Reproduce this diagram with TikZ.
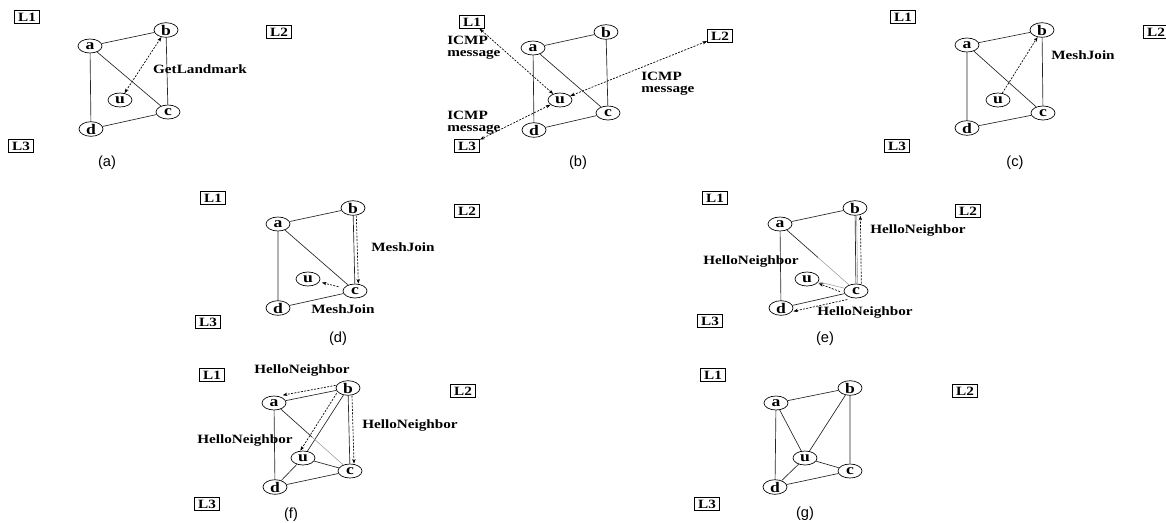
\documentclass[tikz,border=0pt]{standalone}
\usepackage{fontspec}
\setmainfont[FakeStretch=1.2]{Liberation Serif}
\newfontfamily\capfont{Liberation Sans}
\usetikzlibrary{shapes.geometric,arrows.meta,calc}
\tikzset{
 vtx/.style={ellipse,draw,line width=0.5pt,fill=white,inner sep=0pt,minimum width=18pt,minimum height=10.5pt,font=\bfseries\fontsize{11}{11}\selectfont},
 lm/.style={draw,line width=0.5pt,inner sep=0pt,minimum width=19pt,minimum height=9.5pt,font=\bfseries\fontsize{9.5}{10}\selectfont},
 lbl/.style={font=\bfseries\fontsize{9.5}{10}\selectfont,inner sep=0pt},
 twol/.style={lbl,align=left,anchor=west,font=\bfseries\fontsize{9.5}{9}\selectfont},
 captxt/.style={font=\capfont\fontsize{11}{11}\selectfont,inner sep=0pt},
 lnk/.style={line width=0.5pt,black!85},
 faint/.style={line width=0.4pt,black!40},
 msg/.style={line width=0.5pt,dash pattern=on 1.5pt off 1pt,-{Stealth[length=3.5pt,width=2.6pt]}},
 msgb/.style={line width=0.5pt,dash pattern=on 1.5pt off 1pt,{Stealth[length=3.5pt,width=2.6pt]}-{Stealth[length=3.5pt,width=2.6pt]}},
}
\begin{document}
\begin{tikzpicture}[x=0.75pt,y=-0.75pt]
\useasboundingbox (0,0) rectangle (1166,522);
% ---------------- (a)
\node[lm] (aL1) at (27,17) {L1};
\node[lm] (aL2) at (279,32) {L2};
\node[lm] (aL3) at (21,146) {L3};
\node[vtx] (aa) at (90,46) {a};
\node[vtx] (ab) at (166,30) {b};
\node[vtx] (au) at (120,100) {u};
\node[vtx] (ac) at (168,112) {c};
\node[vtx] (ad) at (91,129) {d};
\draw[lnk] (aa)--(ab) (aa)--(ad) (aa)--(ac) (ab)--(ac) (ad)--(ac);
\draw[msgb] (au)--(ab);
\node[lbl] (agl) at (200,69) {GetLandmark};
\node[captxt] (acap) at (107,163) {(a)};
% ---------------- (b)
\node[lm] (bL1) at (472,22) {L1};
\node[lm] (bL2) at (720,36) {L2};
\node[lm] (bL3) at (467,146) {L3};
\node[vtx] (ba) at (533,48) {a};
\node[vtx] (bb) at (606,32) {b};
\node[vtx] (bu) at (560,100) {u};
\node[vtx] (bc) at (608,113) {c};
\node[vtx] (bd) at (534,130) {d};
\draw[lnk] (ba)--(bb) (ba)--(bd) (ba)--(bc) (bb)--(bc) (bd)--(bc);
\draw[msgb] (bu)--(bL1);
\draw[msgb] (bu)--(bL2);
\draw[msgb] (bu)--(bL3);
\node[twol] (bm1) at (447,48) {ICMP\\message};
\node[twol] (bm2) at (641,84) {ICMP\\message};
\node[twol] (bm3) at (447,123) {ICMP\\message};
\node[captxt] (bcap) at (578,163) {(b)};
% ---------------- (c)
\node[lm] (cL1) at (903,17) {L1};
\node[lm] (cL2) at (1156,32) {L2};
\node[lm] (cL3) at (897,146) {L3};
\node[vtx] (ca) at (967,45) {a};
\node[vtx] (cb) at (1042,30) {b};
\node[vtx] (cu) at (998,100) {u};
\node[vtx] (cc) at (1043,113) {c};
\node[vtx] (cd) at (967,128) {d};
\draw[lnk] (ca)--(cb) (ca)--(cd) (ca)--(cc) (cb)--(cc) (cd)--(cc);
\draw[msg] (cu)--(cb);
\node[lbl] (cmj) at (1083,55) {MeshJoin};
\node[captxt] (ccap) at (1015,163) {(c)};
% ---------------- (d)
\node[lm] (dL1) at (213,198) {L1};
\node[lm] (dL2) at (467,211) {L2};
\node[lm] (dL3) at (208,322) {L3};
\node[vtx] (da) at (278,224) {a};
\node[vtx] (db) at (353,208) {b};
\node[vtx] (du) at (308,279) {u};
\node[vtx] (dc) at (355,291) {c};
\node[vtx] (dd) at (278,308) {d};
\draw[lnk] (da)--(db) (da)--(dd) (da)--(dc) (db)--(dc) (dd)--(dc);
\draw[msg] ([xshift=2.5pt]db.south)--([xshift=2.5pt]dc.north);
\draw[msg,shorten <=4pt,shorten >=2pt] (dc)--(du);
\node[lbl] (dmj1) at (403,247) {MeshJoin};
\node[lbl] (dmj2) at (343,309) {MeshJoin};
\node[captxt] (dcap) at (338,339) {(d)};
% ---------------- (e)
\node[lm] (eL1) at (715,198) {L1};
\node[lm] (eL2) at (968,211) {L2};
\node[lm] (eL3) at (710,321) {L3};
\node[vtx] (ea) at (780,224) {a};
\node[vtx] (eb) at (855,208) {b};
\node[vtx] (eu) at (807,279) {u};
\node[vtx] (ec) at (856,291) {c};
\node[vtx] (ed) at (781,308) {d};
\coordinate (eac) at ($(ea)!0.5!(ec)$);
\draw[lnk] (ea)--(eb) (ea)--(ed) (ea)--(eac) (eb)--(ec) (ed)--(ec);
\draw[faint] (eac)--(ec);
\draw[faint] ([xshift=1.2pt]eb.south)--([xshift=1.2pt]ec.north);
\draw[faint] (ec)--(eu);
\draw[msg] ([xshift=4pt]ec.north)--([xshift=4pt]eb.south);
\draw[msg,shorten <=3pt,shorten >=1pt] ([yshift=-1.5pt]ec.west)--(eu);
\draw[msg] ([yshift=-2.5pt]ec.south west)--([yshift=-2.5pt]ed.east);
\node[lbl] (ehn1) at (918,230) {HelloNeighbor};
\node[lbl] (ehn2) at (751,261) {HelloNeighbor};
\node[lbl] (ehn3) at (865,312) {HelloNeighbor};
\node[captxt] (ecap) at (825,339) {(e)};
% ---------------- (f)
\node[lm] (fL1) at (212,375) {L1};
\node[lm] (fL2) at (463,391) {L2};
\node[lm] (fL3) at (207,504) {L3};
\node[vtx] (fa) at (274,403) {a};
\node[vtx] (fb) at (348,388) {b};
\node[vtx] (fu) at (303,458) {u};
\node[vtx] (fc) at (350,471) {c};
\node[vtx] (fd) at (275,487) {d};
\coordinate (fac) at ($(fa)!0.5!(fc)$);
\draw[lnk] (fa)--(fb) (fa)--(fd) (fa)--(fac) (fb)--(fc) (fd)--(fc) (fb)--(fu) (fu)--(fc) (fu)--(fd);
\draw[faint] (fac)--(fc);
\draw[msg] ([yshift=2pt]fb.west)--([yshift=2pt]fa.north east);
\draw[msg] ([xshift=-2pt]fb.south west)--([xshift=-2pt]fu.north);
\draw[msg] ([xshift=3pt]fb.south)--([xshift=3pt]fc.north);
\node[lbl] (fhn1) at (302,370) {HelloNeighbor};
\node[lbl] (fhn2) at (410,425) {HelloNeighbor};
\node[lbl] (fhn3) at (245,440) {HelloNeighbor};
\node[captxt] (fcap) at (291,515) {(f)};
% ---------------- (g)
\node[lm] (gL1) at (713,375) {L1};
\node[lm] (gL2) at (965,391) {L2};
\node[lm] (gL3) at (707,504) {L3};
\node[vtx] (ga) at (776,403) {a};
\node[vtx] (gb) at (850,388) {b};
\node[vtx] (gu) at (805,458) {u};
\node[vtx] (gc) at (850,471) {c};
\node[vtx] (gd) at (775,487) {d};
\draw[lnk] (ga)--(gb) (ga)--(gd) (ga)--(gu) (gb)--(gu) (gb)--(gc) (gu)--(gc) (gu)--(gd) (gd)--(gc);
\node[captxt] (gcap) at (805,514) {(g)};
\end{tikzpicture}
\end{document}
